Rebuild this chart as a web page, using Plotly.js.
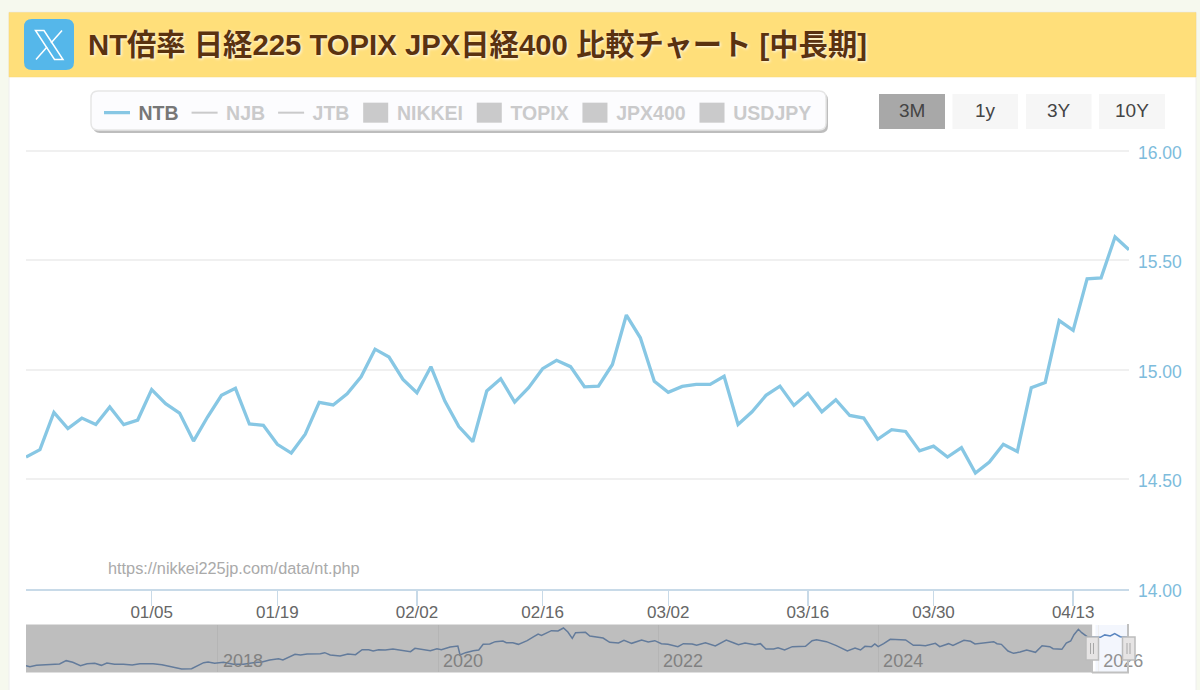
<!DOCTYPE html>
<html>
<head>
<meta charset="utf-8">
<script src="https://cdn.plot.ly/plotly-3.0.1.min.js"></script>
<style>
html,body{margin:0;padding:0;background:#f6f9ee;overflow:hidden}
#chart{width:1200px;height:690px}
g.legendpoints path{d:path("M12.5,10H-12.5V-10H12.5Z")}
g.legendlines path{d:path("M8,0h26")}
</style>
</head>
<body>
<div id="chart"></div>
<script>
const titleText = "NT倍率 日経225 TOPIX JPX日経400 比較チャート [中長期]";
const watermark = "https://nikkei225jp.com/data/nt.php";
const dates = ["12/18","12/19","12/22","12/23","12/24","12/25","12/26","12/29","12/30",
"01/05","01/06","01/07","01/08","01/09","01/13","01/14","01/15","01/16",
"01/19","01/20","01/21","01/22","01/23","01/26","01/27","01/28","01/29","01/30",
"02/02","02/03","02/04","02/05","02/06","02/09","02/10","02/12","02/13",
"02/16","02/17","02/18","02/19","02/20","02/24","02/25","02/26","02/27",
"03/02","03/03","03/04","03/05","03/06","03/09","03/10","03/11","03/12","03/13",
"03/16","03/17","03/18","03/19","03/23","03/24","03/25","03/26","03/27",
"03/30","03/31","04/01","04/02","04/03","04/06","04/07","04/08","04/09","04/10",
"04/13","04/14","04/15","04/16","04/17"];
const ntb = [14.601,14.635,14.805,14.731,14.779,14.750,14.830,14.749,14.770,
14.909,14.845,14.802,14.674,14.784,14.883,14.915,14.752,14.746,
14.659,14.619,14.705,14.851,14.839,14.890,14.968,15.094,15.058,14.956,
14.895,15.014,14.857,14.740,14.671,14.903,14.959,14.852,14.918,
15.005,15.043,15.014,14.922,14.925,15.024,15.250,15.146,14.947,
14.897,14.924,14.933,14.933,14.970,14.750,14.808,14.883,14.925,14.837,
14.892,14.808,14.863,14.791,14.779,14.682,14.726,14.718,14.629,
14.651,14.601,14.644,14.528,14.578,14.659,14.626,14.918,14.942,15.225,
15.180,15.416,15.420,15.607,15.548];
const xTicks = ["01/05","01/19","02/02","02/16","03/02","03/16","03/30","04/13"];
const yTicks = [14,14.5,15,15.5,16];
const yTickLabels = ["14.00","14.50","15.00","15.50","16.00"];
const hiddenLines = ["NJB","JTB"];
const hiddenBars = ["NIKKEI","TOPIX","JPX400","USDJPY"];
const rangeButtons = ["3M","1y","3Y","10Y"];
const navYears = [2016.25,2016.29,2016.35,2016.50,2016.56,2016.62,2016.68,2016.75,2016.81,2016.88,2016.94,2016.99,
2017.06,2017.14,2017.22,2017.29,2017.41,2017.49,2017.59,2017.67,2017.76,2017.87,2017.91,2017.97,
2018.05,2018.14,2018.23,2018.32,2018.40,2018.47,2018.55,2018.59,2018.70,2018.75,2018.81,2018.93,
2018.97,2019.02,2019.11,2019.18,2019.25,2019.31,2019.37,2019.41,2019.46,2019.52,2019.59,2019.67,2019.75,2019.79,2019.87,2019.93,2019.99,
2020.03,2020.11,2020.18,2020.20,2020.25,2020.32,2020.37,2020.41,2020.47,2020.52,2020.59,2020.62,2020.68,2020.73,2020.81,2020.87,2020.91,2020.94,
2021.03,2021.09,2021.14,2021.18,2021.22,2021.25,2021.34,2021.38,2021.44,2021.50,2021.56,2021.64,2021.69,2021.76,2021.85,2021.91,2021.97,
2022.03,2022.09,2022.18,2022.23,2022.31,2022.35,2022.43,2022.52,2022.62,2022.69,2022.73,2022.79,2022.88,2022.93,2022.98,
2023.05,2023.09,2023.15,2023.22,2023.34,2023.40,2023.44,2023.53,2023.62,2023.72,2023.79,2023.84,2023.88,2023.94,2023.97,
2024.00,2024.05,2024.11,2024.25,2024.32,2024.38,2024.43,2024.52,2024.56,2024.64,2024.68,2024.78,2024.84,2024.88,2024.96,
2025.05,2025.08,2025.12,2025.18,2025.23,2025.29,2025.35,2025.43,2025.49,2025.56,2025.59,2025.67,2025.71,2025.75,2025.78,2025.82,2025.85,2025.90,2025.96,
2026.02,2026.06,2026.11,2026.15,2026.20,2026.27];
const navValues = [12.23,12.14,12.26,12.32,12.38,12.68,12.53,12.23,12.41,12.44,12.26,12.47,
12.35,12.35,12.29,12.41,12.41,12.32,12.11,11.93,11.96,12.50,12.56,12.44,
12.53,12.35,12.35,12.50,12.56,12.74,12.86,12.74,13.25,13.19,13.28,13.31,
13.40,13.19,13.10,13.28,13.22,13.67,13.67,13.55,13.67,13.64,13.73,13.64,13.49,13.79,13.64,13.58,13.76,
13.67,13.91,14.00,13.19,13.40,13.58,13.64,14.15,14.18,14.39,14.45,14.30,14.30,14.15,14.48,14.84,15.08,14.96,
15.38,15.35,15.62,15.26,14.69,15.20,15.23,14.90,14.84,14.72,14.33,14.27,14.51,14.24,14.54,14.36,14.48,
14.21,14.15,13.94,14.21,14.18,14.06,14.30,14.00,14.54,14.27,14.12,14.27,14.12,14.21,13.73,
13.73,13.85,13.64,13.94,13.97,14.48,14.57,14.39,14.03,13.55,13.82,13.64,13.97,13.94,14.18,
13.94,14.21,14.60,14.54,14.06,14.06,14.03,14.24,13.94,14.21,14.06,14.51,14.42,14.18,14.30,
14.39,14.21,14.15,13.55,13.34,13.46,13.64,13.43,14.03,13.94,13.76,13.70,14.27,14.45,15.02,15.50,15.20,14.84,14.78,
14.78,15.00,14.90,15.11,14.84,14.78];
const navTickYears = [2018,2020,2022,2024,2026];
const navRange = [2016.255,2026.28];
const navSelection = [2025.945,2026.27];

const fx = v => v / 1200, fy = v => 1 - v / 690;
const sans = "'Liberation Sans','Noto Sans CJK JP',Arial,sans-serif";
const rr = (x0, y0, x1, y1, r) => {
  const X = fx, Y = fy;
  return `M${X(x0 + r)},${Y(y0)}L${X(x1 - r)},${Y(y0)}Q${X(x1)},${Y(y0)} ${X(x1)},${Y(y0 + r)}` +
    `L${X(x1)},${Y(y1 - r)}Q${X(x1)},${Y(y1)} ${X(x1 - r)},${Y(y1)}L${X(x0 + r)},${Y(y1)}` +
    `Q${X(x0)},${Y(y1)} ${X(x0)},${Y(y1 - r)}L${X(x0)},${Y(y0 + r)}Q${X(x0)},${Y(y0)} ${X(x0 + r)},${Y(y0)}Z`;
};
const box = (x0, y0, x1, y1, fill, line, w, layer) => ({
  type: "rect", xref: "paper", yref: "paper", x0: fx(x0), x1: fx(x1), y0: fy(y0), y1: fy(y1),
  fillcolor: fill, line: {color: line || fill, width: w === undefined ? 0 : w}, layer: layer || "below"
});
const pathShape = (d, fill, line, w, layer) => ({
  type: "path", xref: "paper", yref: "paper", path: d, fillcolor: fill,
  line: {color: line || "rgba(0,0,0,0)", width: w || 0}, layer: layer || "below"
});
const poly = pts => pts.map((p, i) => (i ? "L" : "M") + fx(p[0]) + "," + fy(p[1])).join("");

const traces = [
  {type: "scatter", mode: "lines", name: '<span style="color:#777">NTB</span>', x: dates, y: ntb,
   line: {color: "#87c7e4", width: 3.3}, hoverinfo: "skip"}
];
hiddenLines.forEach(n => traces.push({type: "scatter", mode: "lines", name: n, x: [dates[0]], y: [null],
  visible: "legendonly", line: {color: "#999", width: 2}}));
hiddenBars.forEach(n => traces.push({type: "bar", name: n, x: [dates[0]], y: [null],
  visible: "legendonly", marker: {color: "#999"}}));
traces.push({type: "scatter", mode: "lines", x: navYears, y: navValues, xaxis: "x2", yaxis: "y2",
  showlegend: false, line: {color: "#5a86c0", width: 1.5}, hoverinfo: "skip"});

const buttonEdges = [[879, 945], [952.5, 1018], [1026, 1091.5], [1099, 1165]];
const shapes = [
  box(9, 12, 1196, 700, "#ffffff", "#eeeeee", 1),
  box(9, 12.5, 1196, 77, "#ffdf7a", "#f5d77a", 0.5),
  pathShape(rr(24, 19, 74, 70, 8), "#55b7ea"),
  pathShape(poly([[35.5, 30.5], [44, 30.5], [63, 59.5], [54.5, 59.5]]) + "Z", "rgba(0,0,0,0)", "#ffffff", 1.5),
  pathShape(poly([[62, 30.5], [51, 43]]), "rgba(0,0,0,0)", "#ffffff", 1.5),
  pathShape(poly([[47, 47], [36, 59.5]]), "rgba(0,0,0,0)", "#ffffff", 1.5),
  pathShape(rr(93, 93, 828, 133, 7), "#bdbdbd"),
  pathShape(rr(91, 91, 826, 130, 7), "#fcfcfe", "#e6e6e6", 1.5),
  {type: "rect", xref: "x2", yref: "paper", x0: navSelection[0] + 0.03, x1: navSelection[1],
   y0: fy(672), y1: fy(625), fillcolor: "#f3f6fd", line: {width: 0}, layer: "below"},
  {type: "rect", xref: "x2", yref: "paper", x0: navRange[0], x1: navSelection[0],
   y0: fy(672.5), y1: fy(624.5), fillcolor: "rgba(110,110,110,0.45)", line: {width: 0}, layer: "above"},
  pathShape(poly([[1092, 672.5], [1128, 672.5], [1128, 624]]) , "rgba(0,0,0,0)", "#c0c0c0", 2, "above"),
  pathShape(poly([[1092, 660], [1092, 672.5]]), "rgba(0,0,0,0)", "#c0c0c0", 2, "above")
];
[1092, 1128.5].forEach(c => {
  shapes.push(box(c - 6, 637, c + 6.5, 660, "#e6e4e4", "#bcbcbc", 1.5, "above"));
  shapes.push(pathShape(poly([[c - 1.5, 643], [c - 1.5, 654]]), "rgba(0,0,0,0)", "#a8a8a8", 1, "above"));
  shapes.push(pathShape(poly([[c + 1.5, 643], [c + 1.5, 654]]), "rgba(0,0,0,0)", "#a8a8a8", 1, "above"));
});

const annotations = [
  {xref: "paper", yref: "paper", x: fx(86), y: fy(45), xanchor: "left", yanchor: "middle", showarrow: false,
   text: "<b>" + titleText + "</b>",
   font: {family: sans, size: 29.3, color: "#5a3210", shadow: "1px 1px 3px rgba(255,255,255,0.9)"}},
  {xref: "paper", yref: "paper", x: fx(106), y: fy(568), xanchor: "left", yanchor: "middle", showarrow: false,
   text: watermark, font: {family: sans, size: 16.3, color: "#aaaaaa"}}
];
rangeButtons.forEach((t, i) => {
  const e = buttonEdges[i];
  shapes.push(box(e[0], 94, e[1], 129, i === 0 ? "#a8a8a8" : "#f6f6f6"));
  annotations.push({xref: "paper", yref: "paper", x: fx((e[0] + e[1]) / 2), y: fy(110), xanchor: "center", yanchor: "middle",
    showarrow: false, text: t, font: {family: sans, size: 19, color: "#444444"}});
});

const layout = {
  width: 1200, height: 690, margin: {l: 0, r: 0, t: 0, b: 0},
  paper_bgcolor: "#f6f9ee", plot_bgcolor: "rgba(0,0,0,0)", autosize: false, barmode: "overlay",
  xaxis: {type: "category", categoryorder: "array", categoryarray: dates, range: [0, 79],
    domain: [fx(26), fx(1129)], anchor: "y", showgrid: false, zeroline: false,
    showline: true, linecolor: "#c8dae8", linewidth: 2,
    tickmode: "array", tickvals: xTicks, ticktext: xTicks, ticks: "outside", ticklen: 15, tickwidth: 1.5,
    tickcolor: "#c8dae8", tickangle: 0, ticklabelstandoff: -8,
    tickfont: {family: sans, size: 17, color: "#666666"}},
  yaxis: {range: [14, 16.005], domain: [fy(588.5), fy(149.9)], anchor: "x", side: "right",
    tickmode: "array", tickvals: yTicks, ticktext: yTickLabels, gridcolor: "#f0f0f0", gridwidth: 2,
    zeroline: false, showline: false, ticks: "", ticklabelstandoff: 8, ticklabelshift: 2,
    tickfont: {family: sans, size: 17.5, color: "#7dbcdc"}},
  xaxis2: {range: navRange, domain: [fx(26), fx(1129)], anchor: "y2", zeroline: false, showline: false,
    tickmode: "array", tickvals: navTickYears, ticktext: navTickYears.map(String), gridcolor: "#eeeeee", gridwidth: 1,
    ticks: "", ticklabelposition: "inside", ticklabeloverflow: "allow", ticklabelshift: 25, ticklabelstandoff: -2,
    tickfont: {family: sans, size: 18, color: "#909090"}},
  yaxis2: {range: [11.66, 15.89], domain: [fy(672), fy(625)], anchor: "x2", visible: false, fixedrange: true},
  legend: {orientation: "h", x: fx(96), y: fy(93.5), xanchor: "left", yanchor: "top",
    bgcolor: "rgba(0,0,0,0)", borderwidth: 0, itemwidth: 32.5, traceorder: "normal",
    font: {family: sans, size: 19.5, color: "#999999", weight: "bold"}},
  shapes, annotations, showlegend: true
};
Plotly.newPlot("chart", traces, layout, {staticPlot: true, displayModeBar: false, responsive: false});
</script>
</body>
</html>
